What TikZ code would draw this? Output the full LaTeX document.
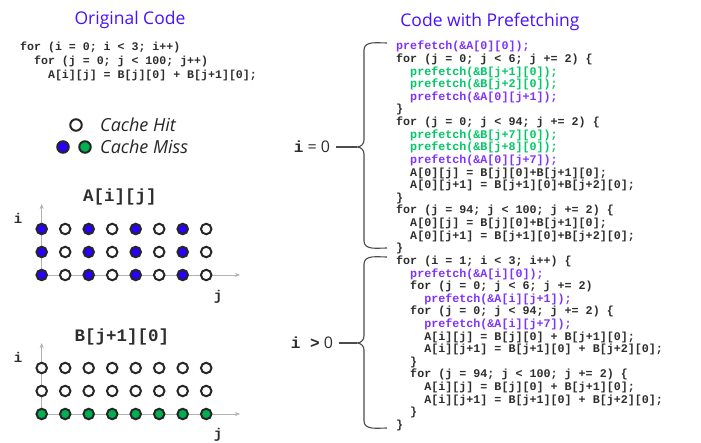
\documentclass[tikz,border=0pt]{standalone}
\usepackage{fontspec}
\setmainfont{Open Sans}
\setmonofont{Liberation Mono}
\usetikzlibrary{arrows.meta}
\definecolor{titleblue}{RGB}{72,16,255}
\definecolor{missblue}{RGB}{40,0,255}
\definecolor{missgreen}{RGB}{0,176,80}
\definecolor{pfpurple}{RGB}{125,50,255}
\definecolor{pfgreen}{RGB}{0,200,100}
\definecolor{codegray}{RGB}{45,45,45}
\newcommand{\pfA}[1]{\textcolor{pfpurple}{#1}}
\newcommand{\pfB}[1]{\textcolor{pfgreen}{#1}}
\newcommand{\codeind}{\phantom{xx}}
\tikzset{
  heading/.style={text=titleblue, font=\fontsize{17.5}{20}\selectfont},
  code/.style={font=\ttfamily\bfseries\fontsize{11.7}{12.62}\selectfont, text=codegray, align=left, anchor=north west, inner sep=0pt},
  arrname/.style={font=\ttfamily\bfseries\fontsize{17.5}{19}\selectfont, text=codegray},
  axlabel/.style={font=\ttfamily\bfseries\fontsize{14}{16}\selectfont, text=codegray},
  legend/.style={font=\itshape\fontsize{18}{20}\selectfont, text=black!85, anchor=west, inner sep=0pt},
  hit/.style={circle, draw=black!85, line width=2pt, minimum size=10.5pt, inner sep=0pt, fill=white},
  missA/.style={hit, fill=missblue},
  missB/.style={hit, fill=missgreen},
  axis/.style={draw=black!30, line width=0.7pt, -{Stealth[length=5pt,width=4pt]}},
  brace/.style={draw=black!70, line width=1.1pt},
  case/.style={font=\fontsize{16}{18}\selectfont, text=codegray, inner sep=6pt}
}
\begin{document}
\begin{tikzpicture}[x=1pt, y=-1pt]
  \useasboundingbox (0,0) rectangle (701,443);

  % Titles
  \node[heading] (orig) at (130,20) {Original Code};
  \node[heading] (pref) at (490,22) {Code with Prefetching};

  % Original loop
  \node[code, font=\ttfamily\bfseries\fontsize{11.6}{14}\selectfont] (origcode) at (20,42) {%
    for (i = 0; i < 3; i++)\\
    \codeind for (j = 0; j < 100; j++)\\
    \codeind\codeind A[i][j] = B[j][0] + B[j+1][0];};

  % Legend
  \node[hit, minimum size=11.5pt] (lhit) at (76,125) {};
  \node[legend] (lhittxt) at (100,125) {Cache Hit};
  \node[missA, minimum size=11.5pt] (lmissA) at (63,147) {};
  \node[missB, minimum size=11.5pt] (lmissB) at (85,147) {};
  \node[legend] (lmisstxt) at (100,147) {Cache Miss};

  % Access pattern of A
  \node[arrname] (aname) at (120,197) {A[i][j]};
  \coordinate (aorg) at (41.7,275);
  \coordinate (atop) at (41.7,204);
  \coordinate (aright) at (240,275);
  \draw[axis] (aorg) -- (atop);
  \draw[axis] (aorg) -- (aright);
  \node[axlabel] (ai) at (18,218) {i};
  \node[axlabel] (aj) at (218,297) {j};
  \foreach \r/\y in {0/275,1/252,2/229} {
    \foreach \c in {0,2,4,6} \node[missA] (a-\r-\c) at ({41.7+23.5*\c},\y) {};
    \foreach \c in {1,3,5,7} \node[hit] (a-\r-\c) at ({41.7+23.5*\c},\y) {};
  }

  % Access pattern of B
  \node[arrname] (bname) at (122,337) {B[j+1][0]};
  \coordinate (borg) at (41.7,414);
  \coordinate (btop) at (41.7,343);
  \coordinate (bright) at (240,414);
  \draw[axis] (borg) -- (btop);
  \draw[axis] (borg) -- (bright);
  \node[axlabel] (bi) at (18,357) {i};
  \node[axlabel] (bj) at (218,435) {j};
  \foreach \c in {0,...,7} {
    \node[missB] (b-0-\c) at ({41.7+23.5*\c},414) {};
    \node[hit] (b-1-\c) at ({41.7+23.5*\c},391) {};
    \node[hit] (b-2-\c) at ({41.7+23.5*\c},368) {};
  }

  % Prefetching code
  \node[code] (pfcode) at (396,41) {%
    \pfA{prefetch(\&A[0][0]);}\\
    for (j = 0; j < 6; j += 2) \{\\
    \codeind\pfB{prefetch(\&B[j+1][0]);}\\
    \codeind\pfB{prefetch(\&B[j+2][0]);}\\
    \codeind\pfA{prefetch(\&A[0][j+1]);}\\
    \}\\
    for (j = 0; j < 94; j += 2) \{\\
    \codeind\pfB{prefetch(\&B[j+7][0]);}\\
    \codeind\pfB{prefetch(\&B[j+8][0]);}\\
    \codeind\pfA{prefetch(\&A[0][j+7]);}\\
    \codeind A[0][j] = B[j][0]+B[j+1][0];\\
    \codeind A[0][j+1] = B[j+1][0]+B[j+2][0];\\
    \}\\
    for (j = 94; j < 100; j += 2) \{\\
    \codeind A[0][j] = B[j][0]+B[j+1][0];\\
    \codeind A[0][j+1] = B[j+1][0]+B[j+2][0];\\
    \}\\
    for (i = 1; i < 3; i++) \{\\
    \codeind\pfA{prefetch(\&A[i][0]);}\\
    \codeind for (j = 0; j < 6; j += 2)\\
    \codeind\codeind\pfA{prefetch(\&A[i][j+1]);}\\
    \codeind for (j = 0; j < 94; j += 2) \{\\
    \codeind\codeind\pfA{prefetch(\&A[i][j+7]);}\\
    \codeind\codeind A[i][j] = B[j][0] + B[j+1][0];\\
    \codeind\codeind A[i][j+1] = B[j+1][0] + B[j+2][0];\\
    \codeind\}\\
    \codeind for (j = 94; j < 100; j += 2) \{\\
    \codeind\codeind A[i][j] = B[j][0] + B[j+1][0];\\
    \codeind\codeind A[i][j+1] = B[j+1][0] + B[j+2][0];\\
    \codeind\}\\
    \}};

  % Braces
  \draw[brace] (387,43) to[out=180,in=90] (364,50) -- (364,140)
    to[out=-90,in=0] (357,147) to[out=0,in=90] (364,154) -- (364,241)
    to[out=-90,in=180] (387,248);
  \draw[brace] (387,257) to[out=180,in=90] (364,264) -- (364,336)
    to[out=-90,in=0] (357,343) to[out=0,in=90] (364,350) -- (364,421)
    to[out=-90,in=180] (387,428);
  \coordinate (tipzero) at (357,147);
  \coordinate (tipmore) at (357,343);
  \node[case] (izero) at (312,147) {{\ttfamily\bfseries i} = 0};
  \node[case] (imore) at (312,343) {{\ttfamily\bfseries i >} 0};
  \draw[brace] (izero) -- (tipzero);
  \draw[brace] (imore) -- (tipmore);
\end{tikzpicture}
\end{document}
